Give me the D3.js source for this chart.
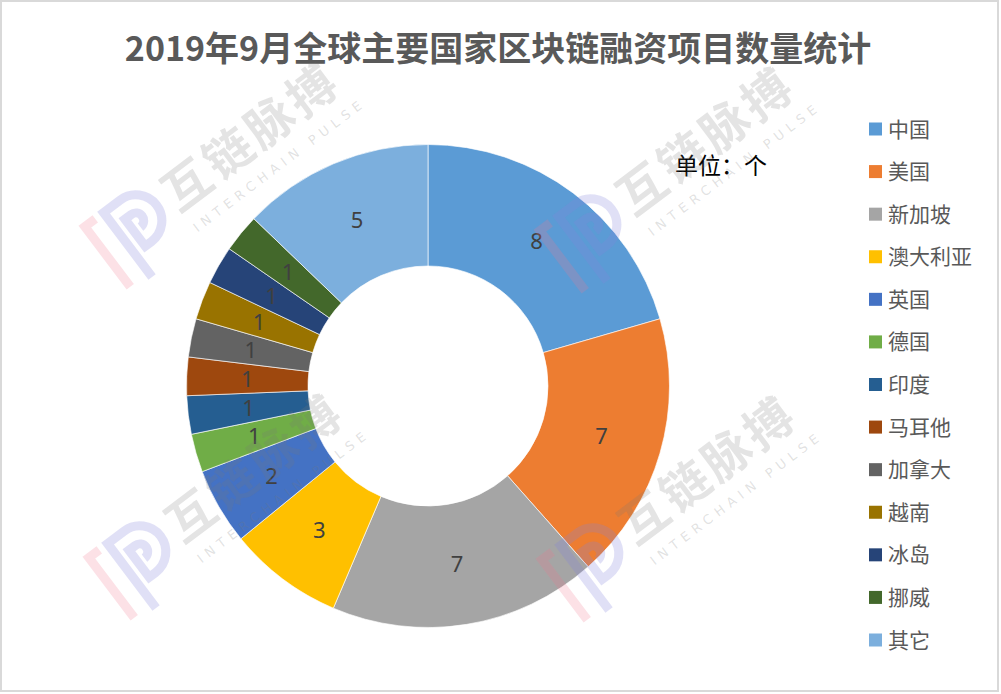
<!DOCTYPE html>
<html>
<head>
<meta charset="utf-8">
<script src="https://cdn.jsdelivr.net/npm/d3@7"></script>
<style>
  html, body { margin: 0; padding: 0; background: #fff; }
  svg { display: block; }
  text { font-family: "Noto Sans CJK SC", "Noto Sans", sans-serif; }
</style>
</head>
<body>
<svg id="chart" width="1001" height="694"></svg>
<script>
const title = "2019年9月全球主要国家区块链融资项目数量统计";
const unitLabel = "单位：个";
const categories = ["中国","美国","新加坡","澳大利亚","英国","德国","印度","马耳他","加拿大","越南","冰岛","挪威","其它"];
const values = [8,7,7,3,2,1,1,1,1,1,1,1,5];
const colors = ["#5B9BD5","#ED7D31","#A5A5A5","#FFC000","#4472C4","#70AD47","#255E91","#9E480E","#636363","#997300","#264478","#43682B","#7CAFDD"];

const svg = d3.select("#chart");
const W = 1001, H = 694;

svg.append("rect").attr("x", 0).attr("y", 0).attr("width", W).attr("height", H).attr("fill", "#fff");
svg.append("rect").attr("x", 1).attr("y", 1).attr("width", 997).attr("height", 690)
  .attr("fill", "none").attr("stroke", "#d9d9d9").attr("stroke-width", 2);

svg.append("text").attr("x", 498).attr("y", 61).attr("text-anchor", "middle")
  .attr("font-size", 34).attr("font-weight", "bold").attr("fill", "#595959").text(title);

const cx = 428, cy = 386, rOut = 241.5, rIn = 120;
const data = categories.map((c, i) => ({ name: c, value: values[i], color: colors[i] }));
const pie = d3.pie().value(d => d.value).sort(null);
const arc = d3.arc().innerRadius(rIn).outerRadius(rOut);
const labelArc = d3.arc().innerRadius((rIn + rOut) / 2).outerRadius((rIn + rOut) / 2);
const arcs = pie(data);

const g = svg.append("g").attr("transform", `translate(${cx},${cy})`);
g.selectAll("path").data(arcs).join("path")
  .attr("d", arc).attr("fill", d => d.data.color)
  .attr("stroke", "rgba(255,255,255,0.8)").attr("stroke-width", 0.8);
g.selectAll("text.lbl").data(arcs).join("text").attr("class", "lbl")
  .attr("transform", d => `translate(${labelArc.centroid(d)})`)
  .attr("text-anchor", "middle").attr("dy", "0.36em")
  .attr("font-size", 22).attr("fill", "#404040")
  .style("font-family", "'Noto Sans', sans-serif")
  .text(d => d.data.value);

// legend
const lg = svg.append("g");
const legY = d3.scalePoint().domain(categories).range([129, 640]);
categories.forEach((c, i) => {
  const y = legY(c);
  lg.append("rect").attr("x", 869).attr("y", y - 6.5).attr("width", 13).attr("height", 13).attr("fill", colors[i]);
  lg.append("text").attr("x", 888).attr("y", y).attr("dy", "0.36em")
    .attr("font-size", 21).attr("fill", "#595959").text(c);
});

svg.append("text").attr("x", 675).attr("y", 174).attr("font-size", 23).attr("fill", "#000").text(unitLabel);

// watermarks
const wmPos = [[251,137],[706,141],[255,468],[708,470]];
wmPos.forEach(([x, y]) => {
  const w = svg.append("g").attr("transform", `translate(${x},${y}) rotate(-37)`);
  w.append("text").attr("x", 0).attr("y", 17).attr("text-anchor", "middle")
    .attr("font-size", 48).attr("letter-spacing", 4).attr("font-weight", "bold")
    .attr("fill", "rgba(120,120,120,0.2)").text("互链脉搏");
  w.append("text").attr("x", 6).attr("y", 44).attr("text-anchor", "middle")
    .attr("font-size", 13).attr("letter-spacing", 5.5)
    .attr("fill", "rgba(120,120,120,0.22)").style("font-family", "'DejaVu Sans', sans-serif").text("INTERCHAIN PULSE");
  const lgo = w.append("g").attr("transform", "translate(-158,8) scale(1.3)");
  lgo.append("path").attr("d", "M-22,30 V-28 H-12")
    .attr("fill", "none").attr("stroke", "rgba(240,120,140,0.22)").attr("stroke-width", 7);
  lgo.append("path").attr("d", "M-4,34 V-28 H12 A20,20 0 0 1 12,12 H6 V-14 H12 A6,6 0 0 1 12,-2")
    .attr("fill", "none").attr("stroke", "rgba(130,130,220,0.25)").attr("stroke-width", 7);
});
</script>
</body>
</html>
